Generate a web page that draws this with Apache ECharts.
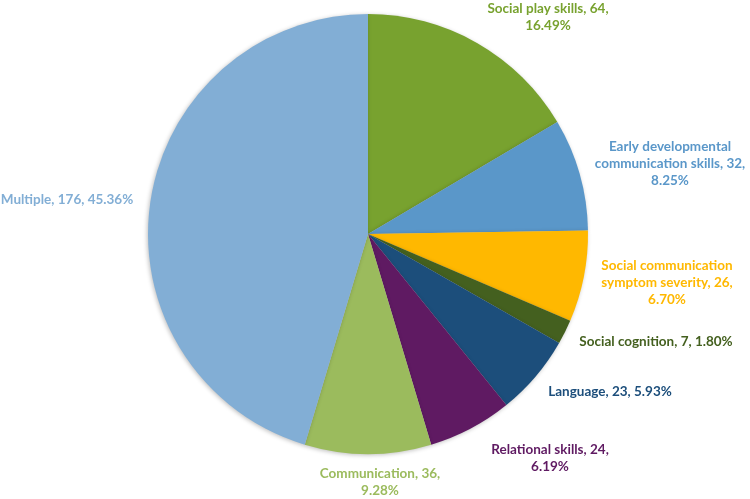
<!DOCTYPE html>
<html>
<head>
<meta charset="utf-8">
<script src="https://cdn.jsdelivr.net/npm/echarts@6/dist/echarts.min.js"></script>
<style>
html,body{margin:0;padding:0;background:#fff}
#main{width:750px;height:499px}
</style>
</head>
<body>
<div id="main"></div>
<script>
var categories = ['Social play skills', 'Early developmental communication skills', 'Social communication symptom severity', 'Social cognition', 'Language', 'Relational skills', 'Communication', 'Multiple'];
var counts = [64, 32, 26, 7, 23, 24, 36, 176];
var percents = ['16.49%', '8.25%', '6.70%', '1.80%', '5.93%', '6.19%', '9.28%', '45.36%'];
// label text as broken in the original
var labelTexts = [
    'Social play skills, 64,\n16.49%',
    'Early developmental\ncommunication skills, 32,\n8.25%',
    'Social communication\nsymptom severity, 26,\n6.70%',
    'Social cognition, 7, 1.80%',
    'Language, 23, 5.93%',
    'Relational skills, 24,\n6.19%',
    'Communication, 36,\n9.28%',
    'Multiple, 176, 45.36%'
];
var colors = ['#78A22F', '#5A97C9', '#FFB800', '#44601F', '#1C4E7B', '#5F1A62', '#9BBB5D', '#82AED5'];
var labelColors = ['#78A22F', '#5A97C9', '#FFB800', '#44601F', '#1C4E7B', '#5F1A62', '#9BBB5D', '#82AED5'];
// label anchor points (centre of each label block)
var labelPos = [[548, 17], [670, 164], [667, 283], [656, 342], [610, 392], [550, 458], [380, 482], [67, 200]];

var myChart = echarts.init(document.getElementById('main'));
var seriesData = categories.map(function (c, i) {
    return {
        name: c,
        value: counts[i],
        itemStyle: { color: colors[i] },
        label: { color: labelColors[i], formatter: labelTexts[i] }
    };
});
var option = {
    backgroundColor: '#fff',
    animation: false,
    series: [{
        type: 'pie',
        center: [368, 234],
        radius: 220,
        startAngle: 90,
        clockwise: true,
        data: seriesData,
        itemStyle: {
            shadowBlur: 4,
            shadowOffsetX: -1,
            shadowOffsetY: 1,
            shadowColor: 'rgba(0,0,0,0.25)'
        },
        label: {
            show: true,
            position: 'outside',
            fontFamily: 'Lato',
            fontWeight: 'bold',
            fontSize: 13.5,
            lineHeight: 17,
            align: 'center',
            overflow: 'none',
            width: 300
        },
        labelLine: { show: false },
        labelLayout: function (params) {
            var p = labelPos[params.dataIndex];
            return { x: p[0], y: p[1], align: 'center', verticalAlign: 'middle' };
        }
    }]
};
myChart.setOption(option);
</script>
</body>
</html>
